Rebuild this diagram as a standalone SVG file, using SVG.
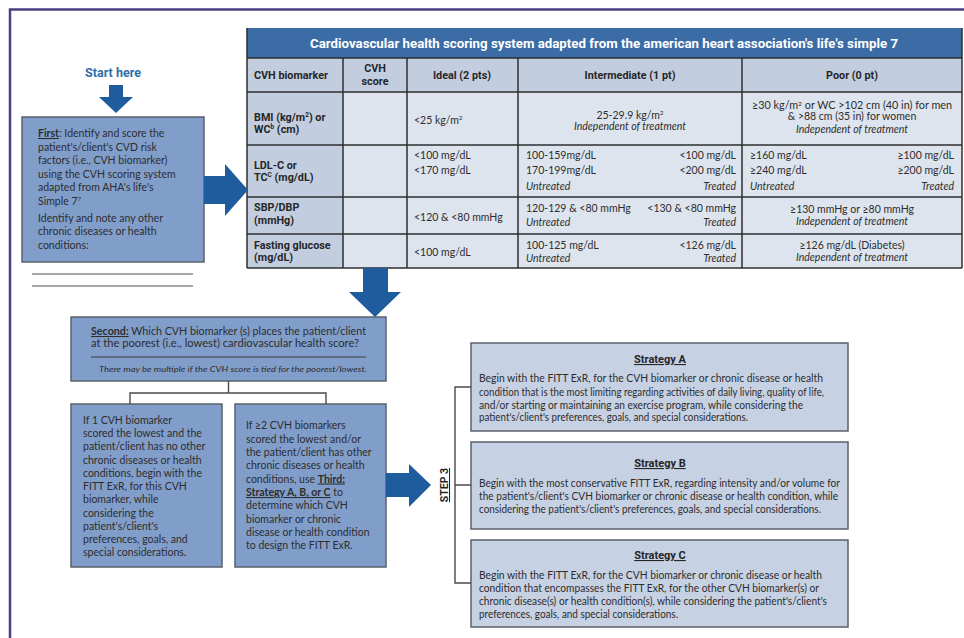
<svg xmlns="http://www.w3.org/2000/svg" width="964" height="638" viewBox="0 0 964 638">
<style>
.t{font-family:Lato,"Liberation Sans",sans-serif;fill:#2d2d2d}
.bx{font-size:10.5px}
.tb{font-size:10.5px}
.it{font-style:italic}
.hd{font-family:Roboto,"Liberation Sans",sans-serif;font-weight:700;fill:#262626}
.u{text-decoration:underline}
.box{fill:#819ecb;stroke:#5b606b;stroke-width:1.5}
.sbox{fill:#c7d1e4;stroke:#5b606b;stroke-width:1.5}
.arrow{fill:#1e5c9e}
.conn{fill:none;stroke:#4a4a4a;stroke-width:1.4}
.grid{stroke:#2e2e2e;stroke-width:1.5}
</style>
<rect width="964" height="638" fill="#ffffff"/>
<path d="M10,638 V9.5 H964" fill="none" stroke="#4b3f82" stroke-width="2.5"/>

<g id="start">
<text class="hd" x="113" y="76.5" font-size="12.5" text-anchor="middle" style="fill:#2f6eaa">Start here</text>
</g>

<g id="first">
<rect class="box" x="22" y="117" width="182" height="145"/>
<text class="t bx" x="38" y="137"><tspan class="u" font-weight="700">First</tspan>: Identify and score the</text>
<text class="t bx" x="38" y="150.5">patient's/client's CVD risk</text>
<text class="t bx" x="38" y="164">factors (i.e., CVH biomarker)</text>
<text class="t bx" x="38" y="177.5">using the CVH scoring system</text>
<text class="t bx" x="38" y="191">adapted from AHA's life's</text>
<text class="t bx" x="38" y="204.5">Simple 7<tspan font-size="6.5" dy="-4">7</tspan></text>
<text class="t bx" x="38" y="221.5">Identify and note any other</text>
<text class="t bx" x="38" y="235">chronic diseases or health</text>
<text class="t bx" x="38" y="248.5">conditions:</text>
<line x1="32" y1="274" x2="193" y2="274" stroke="#8a8a8a" stroke-width="1.5"/>
<line x1="32" y1="286" x2="193" y2="286" stroke="#8a8a8a" stroke-width="1.5"/>
</g>

<g id="table">
<rect x="247" y="28" width="715" height="30" fill="#3c6ca5"/>
<text x="310" y="48" textLength="588" lengthAdjust="spacingAndGlyphs" font-family="Roboto,'Liberation Sans',sans-serif" font-weight="700" font-size="12.5" fill="#ffffff">Cardiovascular health scoring system adapted from the american heart association's life's simple 7</text>
<rect x="247" y="58" width="715" height="34" fill="#c3cde0"/>
<rect x="247" y="92" width="96" height="176" fill="#c3cde0"/>
<rect x="343" y="92" width="619" height="176" fill="#dee4ee"/>
<g class="grid">
<line x1="247" y1="58" x2="962" y2="58"/>
<line x1="247" y1="92" x2="962" y2="92"/>
<line x1="247" y1="145" x2="962" y2="145"/>
<line x1="247" y1="197" x2="962" y2="197"/>
<line x1="247" y1="234" x2="962" y2="234"/>
<line x1="247" y1="268" x2="962" y2="268"/>
<line x1="247" y1="28" x2="247" y2="268"/>
<line x1="343" y1="58" x2="343" y2="268"/>
<line x1="407" y1="58" x2="407" y2="268"/>
<line x1="518" y1="58" x2="518" y2="268"/>
<line x1="742" y1="58" x2="742" y2="268"/>
<line x1="962" y1="28" x2="962" y2="268"/>
</g>
<g class="hd" font-size="10.8">
<text x="254" y="79">CVH biomarker</text>
<text x="375" y="72" text-anchor="middle">CVH</text>
<text x="375" y="84.5" text-anchor="middle">score</text>
<text x="462" y="79" text-anchor="middle">Ideal (2 pts)</text>
<text x="630" y="79" text-anchor="middle">Intermediate (1 pt)</text>
<text x="852" y="79" text-anchor="middle">Poor (0 pt)</text>
<text x="254" y="121">BMI (kg/m<tspan font-size="6.5" dy="-4">2</tspan><tspan dy="4">) or</tspan></text>
<text x="254" y="133">WC<tspan font-size="6.5" dy="-4">b</tspan><tspan dy="4"> (cm)</tspan></text>
<text x="254" y="169">LDL-C or</text>
<text x="254" y="181">TC<tspan font-size="6.5" dy="-4">C</tspan><tspan dy="4"> (mg/dL)</tspan></text>
<text x="254" y="211">SBP/DBP</text>
<text x="254" y="224">(mmHg)</text>
<text x="254" y="249">Fasting glucose</text>
<text x="254" y="261">(mg/dL)</text>
</g>
<g class="t tb">
<text x="414" y="124">&lt;25 kg/m<tspan font-size="6.5" dy="-4">2</tspan></text>
<text x="630" y="119" text-anchor="middle">25-29.9 kg/m<tspan font-size="6.5" dy="-4">2</tspan></text>
<text class="it" x="630" y="130" text-anchor="middle">Independent of treatment</text>
<text x="852" y="108.5" text-anchor="middle" textLength="200" lengthAdjust="spacingAndGlyphs">≥30 kg/m<tspan font-size="6.5" dy="-3">2</tspan><tspan dy="3"> or WC &gt;102 cm (40 in) for men</tspan></text>
<text x="852" y="120" text-anchor="middle">&amp; &gt;88 cm (35 in) for women</text>
<text class="it" x="852" y="133" text-anchor="middle">Independent of treatment</text>

<text x="414" y="159">&lt;100 mg/dL</text>
<text x="414" y="174">&lt;170 mg/dL</text>
<text x="526" y="159">100-159mg/dL</text>
<text x="736" y="159" text-anchor="end">&lt;100 mg/dL</text>
<text x="526" y="174">170-199mg/dL</text>
<text x="736" y="174" text-anchor="end">&lt;200 mg/dL</text>
<text class="it" x="526" y="190">Untreated</text>
<text class="it" x="736" y="190" text-anchor="end">Treated</text>
<text x="750" y="159">≥160 mg/dL</text>
<text x="954" y="159" text-anchor="end">≥100 mg/dL</text>
<text x="750" y="174">≥240 mg/dL</text>
<text x="954" y="174" text-anchor="end">≥200 mg/dL</text>
<text class="it" x="750" y="190">Untreated</text>
<text class="it" x="954" y="190" text-anchor="end">Treated</text>

<text x="414" y="221">&lt;120 &amp; &lt;80 mmHg</text>
<text x="526" y="212">120-129 &amp; &lt;80 mmHg</text>
<text x="736" y="212" text-anchor="end">&lt;130 &amp; &lt;80 mmHg</text>
<text class="it" x="526" y="225.5">Untreated</text>
<text class="it" x="736" y="225.5" text-anchor="end">Treated</text>
<text x="852" y="213" text-anchor="middle">≥130 mmHg or ≥80 mmHg</text>
<text class="it" x="852" y="224.5" text-anchor="middle">Independent of treatment</text>

<text x="414" y="256">&lt;100 mg/dL</text>
<text x="526" y="249">100-125 mg/dL</text>
<text x="736" y="249" text-anchor="end">&lt;126 mg/dL</text>
<text class="it" x="526" y="262">Untreated</text>
<text class="it" x="736" y="262" text-anchor="end">Treated</text>
<text x="852" y="249" text-anchor="middle">≥126 mg/dL (Diabetes)</text>
<text class="it" x="852" y="261" text-anchor="middle">Independent of treatment</text>
</g>
</g>

<g id="second">
<rect class="box" x="71" y="317" width="315" height="64"/>
<text class="t bx" x="91" y="335" textLength="275" lengthAdjust="spacingAndGlyphs"><tspan class="u" font-weight="700">Second:</tspan> Which CVH biomarker (s) places the patient/client</text>
<text class="t bx" x="91" y="347" textLength="268" lengthAdjust="spacingAndGlyphs">at the poorest (i.e., lowest) cardiovascular health score?</text>
<line x1="91" y1="357" x2="366" y2="357" stroke="#3a3a3a" stroke-width="1"/>
<text class="t it" x="233" y="371.5" font-size="8" text-anchor="middle" textLength="268" lengthAdjust="spacingAndGlyphs">There may be multiple if the CVH score is tied for the poorest/lowest.</text>
</g>

<g id="one-biomarker">
<rect class="box" x="71" y="404" width="151" height="163"/>
<g class="t bx">
<text x="83" y="423.5">If 1 CVH biomarker</text>
<text x="83" y="437">scored the lowest and the</text>
<text x="83" y="450">patient/client has no other</text>
<text x="83" y="463.5">chronic diseases or health</text>
<text x="83" y="476.5">conditions, begin with the</text>
<text x="83" y="490">FITT ExR, for this CVH</text>
<text x="83" y="503">biomarker,  while</text>
<text x="83" y="516.5">considering the</text>
<text x="83" y="529.5">patient's/client's</text>
<text x="83" y="543">preferences, goals, and</text>
<text x="83" y="556">special considerations.</text>
</g>
</g>

<g id="two-biomarkers">
<rect class="box" x="235" y="404" width="151" height="163"/>
<g class="t bx">
<text x="246" y="429">If ≥2 CVH biomarkers</text>
<text x="246" y="442.5">scored the lowest and/or</text>
<text x="246" y="456">the patient/client has other</text>
<text x="246" y="469">chronic diseases or health</text>
<text x="246" y="482.5">conditions, use <tspan class="u" font-weight="700">Third:</tspan></text>
<text x="246" y="496"><tspan class="u" font-weight="700">Strategy A, B, or C</tspan> to</text>
<text x="246" y="509">determine which CVH</text>
<text x="246" y="522.5">biomarker or chronic</text>
<text x="246" y="536">disease or health condition</text>
<text x="246" y="549">to design the FITT ExR.</text>
</g>
</g>

<g id="step3">
<text class="hd u" font-size="10.5" text-anchor="middle" transform="translate(448,485) rotate(-90)">STEP 3</text>
</g>

<g id="strategy-a">
<rect class="sbox" x="471" y="343" width="377" height="88"/>
<text class="hd u" x="660" y="363" font-size="11" text-anchor="middle">Strategy A</text>
<g class="t" font-size="10.5">
<text x="479" y="382" textLength="344" lengthAdjust="spacingAndGlyphs">Begin with the FITT ExR, for the CVH biomarker or chronic disease or health</text>
<text x="479" y="395.5" textLength="345" lengthAdjust="spacingAndGlyphs">condition that is the most limiting regarding activities of daily living, quality of life,</text>
<text x="479" y="408.5" textLength="324" lengthAdjust="spacingAndGlyphs">and/or starting or maintaining an exercise program, while considering the</text>
<text x="479" y="421" textLength="269" lengthAdjust="spacingAndGlyphs">patient's/client's preferences, goals, and special considerations.</text>
</g>
</g>

<g id="strategy-b">
<rect class="sbox" x="471" y="442" width="377" height="87"/>
<text class="hd u" x="660" y="467" font-size="11" text-anchor="middle">Strategy B</text>
<g class="t" font-size="10.5">
<text x="479" y="487" textLength="361" lengthAdjust="spacingAndGlyphs">Begin with the most conservative FITT ExR, regarding intensity and/or volume for</text>
<text x="479" y="499.5" textLength="359" lengthAdjust="spacingAndGlyphs">the patient's/client's CVH biomarker or chronic disease or health condition, while</text>
<text x="479" y="512.5" textLength="342" lengthAdjust="spacingAndGlyphs">considering the patient's/client's preferences, goals, and special considerations.</text>
</g>
</g>

<g id="strategy-c">
<rect class="sbox" x="471" y="540" width="377" height="87"/>
<text class="hd u" x="660" y="559" font-size="11" text-anchor="middle">Strategy C</text>
<g class="t" font-size="10.5">
<text x="479" y="578.5" textLength="343" lengthAdjust="spacingAndGlyphs">Begin with the FITT ExR, for the CVH biomarker or chronic disease or health</text>
<text x="479" y="591.5" textLength="340" lengthAdjust="spacingAndGlyphs">condition that encompasses the FITT ExR, for the other CVH biomarker(s) or</text>
<text x="479" y="604.5" textLength="348" lengthAdjust="spacingAndGlyphs">chronic disease(s) or health condition(s), while considering the patient's/client's</text>
<text x="479" y="617.5" textLength="199" lengthAdjust="spacingAndGlyphs">preferences, goals, and special considerations.</text>
</g>
</g>

<g id="connectors">
<path class="arrow" d="M109,85 H123 V97 H133 L116,113 L99,97 H109 Z"/>
<path class="arrow" d="M204,176 H225 V164 L248,190 L225,216 V204 H204 Z"/>
<path class="arrow" d="M363,268 H388 V292 H401 L375,317 L349,292 H363 Z"/>
<path class="arrow" d="M386,473 H409 V464 L431,485 L409,507 V497 H386 Z"/>
<path class="conn" d="M228.5,381 V393 M130,404 V393 H326 V404"/>
<path class="conn" d="M471,387 H455 V583 H471 M455,485 H471"/>
</g>
</svg>
